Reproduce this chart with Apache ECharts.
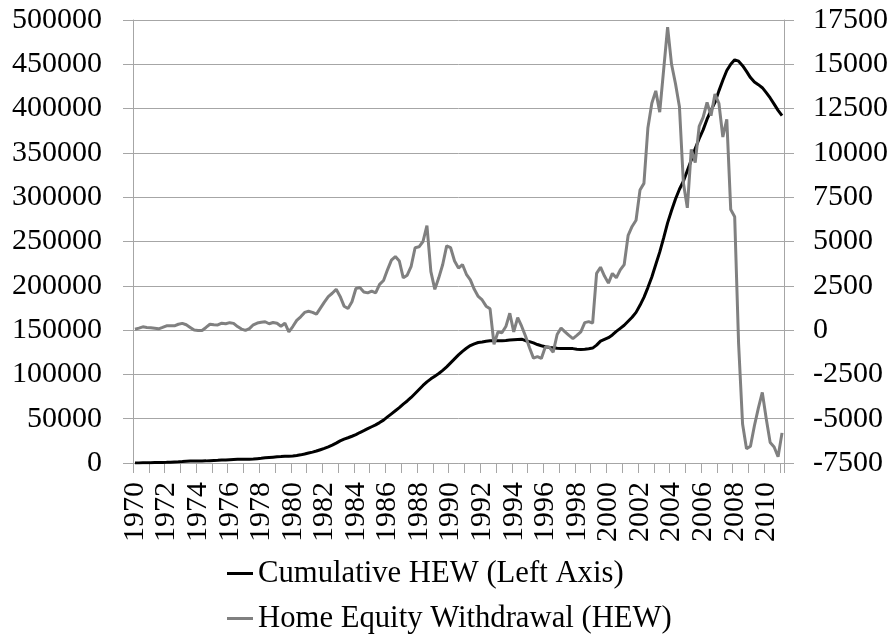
<!DOCTYPE html>
<html><head><meta charset="utf-8">
<script src="https://cdn.jsdelivr.net/npm/echarts@6/dist/echarts.min.js"></script>
<style>html,body{margin:0;padding:0;background:#fff}#c{width:895px;height:637px}</style>
</head><body><div id="c"></div>
<script>
// Quarterly categories 1970 Q1 .. 2011 Q1
const firstYear = 1970, lastYear = 2011, lastQuarter = 1;
const categories = [];
for (let y = firstYear; y <= lastYear; y++) {
  for (let q = 1; q <= 4; q++) {
    if (y === lastYear && q > lastQuarter) break;
    categories.push(y + ' Q' + q);
  }
}

// Cumulative HEW (left axis)
const cumulativeHEW = [
  0, 50, 150, 250,
  350, 450, 550, 650,
  750, 950, 1150, 1350,
  1600, 1900, 2200, 2300,
  2300, 2300, 2400, 2600,
  2800, 3000, 3300, 3500,
  3800, 4000, 4100, 4100,
  4100, 4200, 4500, 4900,
  5300, 5800, 6200, 6600,
  7000, 7300, 7700, 7700,
  7800, 8400, 9200, 10200,
  11300, 12300, 13500, 15000,
  16500, 18200, 20100, 22400,
  25000, 27000, 28500, 30200,
  32000, 34400, 36500, 38700,
  40900, 43000, 45600, 48400,
  52000, 55500, 59000, 62500,
  66500, 70000, 74000, 78500,
  83000, 87500, 91500, 95000,
  98000, 101000, 104500, 108500,
  113000, 117500, 122000, 126000,
  129500, 132500, 134500, 136000,
  136500, 137400, 137900, 137900,
  137900, 137900, 138300, 138800,
  139200, 139500, 139800, 138000,
  137000, 135500, 133700, 132300,
  131200, 130500, 130000, 129400,
  129300, 129300, 129300, 129100,
  128400, 128200, 128500, 129000,
  129700, 133000, 137500, 139500,
  141500, 144500, 148500, 152000,
  155500, 160000, 164500, 170000,
  178000, 187000, 198000, 210000,
  224000, 238000, 254000, 271000,
  285000, 298000, 309000, 318000,
  330000, 342000, 355000, 366000,
  376000, 388000, 398000, 407000,
  420000, 432000, 443000, 450000,
  455000, 453500, 448500, 442000,
  435000, 430000, 427000, 423600,
  418000, 412000, 405000, 398000,
  392000
];

// Home Equity Withdrawal (right axis)
const homeEquityWithdrawal = [
  50, 110, 185, 150,
  130, 100, 70, 150,
  240, 240, 240, 330,
  380, 300, 150, 0,
  -20, -20, 150, 330,
  300, 290, 390, 360,
  420, 380, 200, 60,
  -20, 80, 300, 400,
  440, 470, 360, 430,
  390, 220, 390, -100,
  200, 550, 750, 1000,
  1060, 1000, 900, 1240,
  1580, 1890, 2080, 2300,
  1900, 1350, 1220, 1600,
  2350, 2400, 2150, 2100,
  2200, 2100, 2580, 2800,
  3400, 3950, 4150, 3900,
  2950, 3100, 3600, 4650,
  4700, 5000, 5900, 3300,
  2300, 2950, 3700, 4750,
  4650, 3900, 3500, 3700,
  3150, 2830, 2300, 1900,
  1700, 1350, 1200, -800,
  -100, -150, 200, 950,
  -100, 700, 220, -350,
  -1000, -1580, -1500, -1600,
  -950, -960, -1250, -250,
  120, -100, -300, -480,
  -300, -100, 420, 480,
  390, 3200, 3550, 3050,
  2650, 3200, 2950, 3400,
  3700, 5350, 5850, 6200,
  7900, 8280, 11400, 12800,
  13500, 12300, 14700, 17100,
  15000, 13900, 12600, 8300,
  6900, 10200, 9450, 11500,
  12000, 12850, 12100, 13320,
  12800, 10900, 11900, 6800,
  6400, -800, -5300, -6700,
  -6550, -5400, -4400, -3520,
  -5000, -6350, -6600, -7150,
  -5800
];

const seriesNames = ['Cumulative HEW (Left Axis)', 'Home Equity Withdrawal (HEW)'];

const FONT = "'Liberation Serif', 'Times New Roman', serif";
const AXIS_GRAY = '#a6a6a6';

function legendRow(name, top) {
  return {
    orient: 'horizontal',
    left: 227, top: top, padding: 0,
    icon: 'rect', itemWidth: 26, itemHeight: 3,
    data: [name],
    textStyle: {fontFamily: FONT, fontSize: 30.7, color: '#000', lineHeight: 31}
  };
}

const chart = echarts.init(document.getElementById('c'), null, {renderer: 'canvas'});
chart.setOption({
  animation: false,
  backgroundColor: '#fff',
  textStyle: {fontFamily: FONT},
  grid: {left: 133, right: 111, top: 20, bottom: 174, containLabel: false, outerBoundsMode: 'none'},
  legend: [legendRow(seriesNames[0], 558), legendRow(seriesNames[1], 603)],
  xAxis: {
    type: 'category',
    data: categories,
    boundaryGap: true,
    axisLine: {show: true, lineStyle: {color: AXIS_GRAY, width: 1}},
    axisTick: {show: true, interval: 3, length: 10, lineStyle: {color: AXIS_GRAY}},
    axisLabel: {
      interval: 7, rotate: 90, margin: 19,
      fontSize: 30, fontFamily: FONT, color: '#000',
      formatter: v => v.slice(0, 4)
    },
    splitLine: {show: false}
  },
  yAxis: [{
    type: 'value', position: 'left',
    min: 0, max: 500000, interval: 50000,
    axisLine: {show: true, lineStyle: {color: AXIS_GRAY, width: 1}},
    axisTick: {show: true, length: 10, lineStyle: {color: AXIS_GRAY}},
    axisLabel: {margin: 31, fontSize: 30, fontFamily: FONT, color: '#000', formatter: v => String(v)},
    splitLine: {show: true, lineStyle: {color: AXIS_GRAY, width: 1}}
  }, {
    type: 'value', position: 'right',
    min: -7500, max: 17500, interval: 2500,
    axisLine: {show: true, lineStyle: {color: AXIS_GRAY, width: 1}},
    axisTick: {show: true, length: 10, lineStyle: {color: AXIS_GRAY}},
    axisLabel: {margin: 29, fontSize: 30, fontFamily: FONT, color: '#000', formatter: v => String(v)},
    splitLine: {show: false}
  }],
  series: [{
    name: seriesNames[0], type: 'line', yAxisIndex: 0,
    data: cumulativeHEW, showSymbol: false, symbol: 'none',
    lineStyle: {color: '#000', width: 3}, itemStyle: {color: '#000'}, z: 2
  }, {
    name: seriesNames[1], type: 'line', yAxisIndex: 1,
    data: homeEquityWithdrawal, showSymbol: false, symbol: 'none',
    lineStyle: {color: '#808080', width: 3}, itemStyle: {color: '#808080'}, z: 3
  }]
});
</script></body></html>
